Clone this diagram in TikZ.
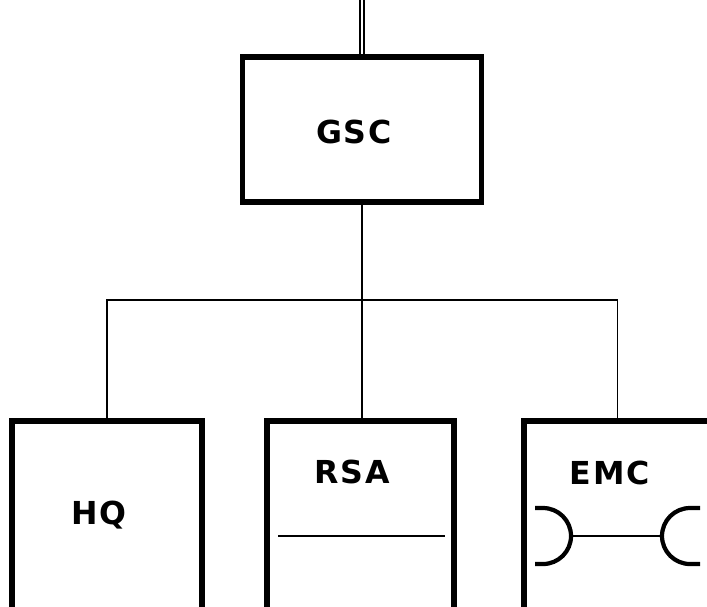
\documentclass[tikz,border=0pt]{standalone}
\usepackage{fontspec}
\newfontfamily\boxfont[LetterSpace=6]{DejaVu Sans}
\usetikzlibrary{positioning}

\begin{document}
\begin{tikzpicture}[x=0.025cm,y=-0.025cm,
        unit/.style={draw,line width=3.8pt,minimum width=#1,minimum height=4.775cm,inner sep=0pt},
        title/.style={font=\boxfont\bfseries\fontsize{22.5}{26}\selectfont,inner sep=0pt},
        wire/.style={line width=1.4pt}]
            \useasboundingbox (0,0) rectangle (707,606);
            \clip (0,0) rectangle (707,606);
            \node[unit=5.975cm,minimum height=3.625cm] (gsc) at (362,129.5) {};
            \node[unit=4.75cm] (hq) at (107,516.5) {};
            \node[unit=4.675cm] (rsa) at (360.5,516.5) {};
            \node[unit=4.675cm] (emc) at (617.5,516.5) {};
            \node[title] (gsctitle) at (354,132) {GSC};
            \node[title] (hqtitle) at (99,515) {HQ};
            \node[title] (rsatitle) at (352,472) {RSA};
            \node[title] (emctitle) at (610,473) {EMC};
            % feed line and bus
            \coordinate (feed) at (362,-5);
            \coordinate (bus) at (362,300);
            \draw[double,line width=1.4pt,double distance=1.4pt] (feed) -- (gsc.north);
            \draw[wire] (gsc.south) -- (gsc.south |- rsa.north);
            \draw[wire] (hq.north) |- (bus) -| (emc.north);
            % inside RSA and EMC
            \draw[wire] (278,536) -- (445,536);
            \draw[line width=3pt] (535,508) -- (543,508) arc (-90:90:28) -- (535,564);
            \draw[line width=3pt] (700,508) -- (690,508) arc (-90:-270:28) -- (700,564);
            \draw[wire] (571,536) -- (662,536);
        \end{tikzpicture}
\end{document}
